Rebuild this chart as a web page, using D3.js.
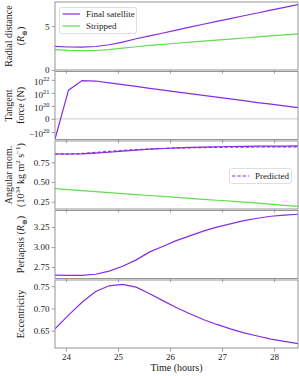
<!DOCTYPE html>
<html>
<head>
<meta charset="utf-8">
<script src="https://cdn.jsdelivr.net/npm/d3@7"></script>
<style>
  body { margin: 0; background: #fff; }
  text { font-family: "Liberation Serif", "DejaVu Serif", serif; fill: #222; }
</style>
</head>
<body>
<div id="chart"></div>
<script>
// time samples (hours)
const times = [23.79, 24.05, 24.31, 24.57, 24.83, 25.09, 25.35, 25.61, 25.87, 26.12,
               26.38, 26.64, 26.90, 27.16, 27.42, 27.68, 27.94, 28.20, 28.46];

// radial distance (R_earth)
const radialFinal = [2.70, 2.62, 2.60, 2.68, 2.88, 3.18, 3.56, 3.88, 4.22, 4.55,
                     4.88, 5.21, 5.54, 5.86, 6.18, 6.50, 6.82, 7.14, 7.46];
const radialStripped = [2.33, 2.24, 2.20, 2.22, 2.32, 2.49, 2.65, 2.80, 2.93, 3.05,
                        3.17, 3.29, 3.41, 3.53, 3.65, 3.77, 3.89, 4.00, 4.11];

// tangent force (N)
const forceFinal = [-3.5e20, 1.6e21, 8.7e21, 8.1e21, 5.9e21, 4.3e21, 3.1e21, 2.2e21, 1.6e21, 1.2e21,
                    8.7e20, 6.5e20, 4.7e20, 3.4e20, 2.5e20, 1.8e20, 1.35e20, 1.0e20, 0.86e20];

// angular momentum (1e34 kg m^2 s^-1)
const angFinal = [0.855, 0.855, 0.857, 0.865, 0.877, 0.892, 0.905, 0.916, 0.925, 0.932,
                  0.938, 0.943, 0.947, 0.950, 0.952, 0.954, 0.955, 0.956, 0.957];
const angPredicted = [0.855, 0.856, 0.862, 0.875, 0.888, 0.900, 0.910, 0.918, 0.925, 0.930,
                      0.934, 0.937, 0.940, 0.942, 0.943, 0.944, 0.945, 0.945, 0.945];
const angStripped = [0.415, 0.402, 0.390, 0.377, 0.365, 0.352, 0.340, 0.328, 0.316, 0.304,
                     0.292, 0.280, 0.268, 0.256, 0.244, 0.232, 0.218, 0.204, 0.190];

// periapsis (R_earth)
const periapsis = [2.650, 2.645, 2.645, 2.660, 2.700, 2.760, 2.840, 2.940, 3.010, 3.080,
                   3.140, 3.200, 3.250, 3.290, 3.330, 3.360, 3.385, 3.400, 3.410];

// eccentricity
const eccentricity = [0.654, 0.685, 0.714, 0.738, 0.751, 0.754, 0.748, 0.733, 0.717, 0.702,
                      0.688, 0.675, 0.664, 0.654, 0.645, 0.638, 0.631, 0.626, 0.621];

const xTicks = [24, 25, 26, 27, 28];
const forceTicks = [-1e20, 0, 1e20, 1e21, 1e22];
const forceLabels = [["−10", "20"], ["0", ""], ["10", "20"], ["10", "21"], ["10", "22"]];

const purple = "#8a2be2";
const green = "#62dd52";
const spine = "#8a8a8a";

const width = 299;
const height = 376;
const margin = {left: 55, right: 1};
const panelTop = [2, 71.5, 141, 210.5, 280];
const panelH = 68;

const svg = d3.select("#chart")
    .append("svg")
    .attr("width", width)
    .attr("height", height);

const xScale = d3.scaleLinear()
    .domain([23.79, 28.46])
    .range([margin.left, width - margin.right]);

// matplotlib-like symlog, linear below 1e20
function symlog(v) {
    const a = Math.abs(v) / 1e20;
    return a < 1 ? v / 1e20 : Math.sign(v) * (1 + Math.log10(a));
}

const panels = [
    {domain: [0, 7.75], ticks: [0, 5], fmt: d3.format("d")},
    {domain: [-1.58, 3.64], ticks: forceTicks.map(symlog), fmt: null},
    {domain: [0.157, 1.02], ticks: [0.25, 0.5, 0.75], fmt: d3.format(".2f")},
    {domain: [2.607, 3.457], ticks: [2.75, 3.0, 3.25], fmt: d3.format(".2f")},
    {domain: [0.611, 0.764], ticks: [0.65, 0.70, 0.75], fmt: d3.format(".2f")}
];

panels.forEach(function(p, i) {
    p.y = d3.scaleLinear()
        .domain(p.domain)
        .range([panelTop[i] + panelH, panelTop[i]]);

    svg.append("clipPath")
        .attr("id", "clip" + i)
        .append("rect")
        .attr("x", margin.left)
        .attr("y", panelTop[i])
        .attr("width", width - margin.right - margin.left)
        .attr("height", panelH);
});

// axes for every panel
panels.forEach(function(p, i) {
    const xAxis = svg.append("g")
        .attr("transform", `translate(0,${panelTop[i] + panelH})`)
        .call(d3.axisBottom(xScale).tickValues(xTicks).tickSize(3.5)
            .tickFormat(i === 4 ? d3.format("d") : ""));

    const yAxis = svg.append("g")
        .attr("transform", `translate(${margin.left},0)`)
        .call(d3.axisLeft(p.y).tickValues(p.ticks).tickSize(3.5)
            .tickFormat(p.fmt ? p.fmt : ""));

    [xAxis, yAxis].forEach(function(a) {
        a.select(".domain").remove();
        a.selectAll("line").attr("stroke", spine).attr("stroke-width", 0.8);
        a.selectAll("text")
            .style("font-family", "Liberation Serif, serif")
            .style("font-size", "9px")
            .attr("fill", "#333");
    });
    yAxis.selectAll("text").attr("x", -5.5);
    xAxis.selectAll("text").attr("y", 6);
    p.yAxis = yAxis;
});

// force tick labels with superscripts
panels[1].yAxis.selectAll(".tick text").each(function(d, k) {
    const t = d3.select(this);
    const lab = forceLabels[k];
    t.text(null);
    t.append("tspan").text(lab[0]);
    if (lab[1]) {
        t.append("tspan").attr("dy", -4).style("font-size", "6.5px").text(lab[1]);
        t.attr("dy", "0.55em");
    }
});

// zero line in force panel
svg.append("line")
    .attr("x1", margin.left)
    .attr("x2", width - margin.right)
    .attr("y1", panels[1].y(0))
    .attr("y2", panels[1].y(0))
    .attr("stroke", "#c4c4c4")
    .attr("stroke-width", 0.9);

function drawLine(i, values, color, dash, tf) {
    const p = panels[i];
    const line = d3.line()
        .x(function(d, k) { return xScale(times[k]); })
        .y(function(d) { return p.y(tf ? tf(d) : d); });
    svg.append("path")
        .datum(values)
        .attr("clip-path", `url(#clip${i})`)
        .attr("fill", "none")
        .attr("stroke", color)
        .attr("stroke-width", 1.2)
        .attr("stroke-dasharray", dash ? "3.5,1.8" : null)
        .attr("d", line);
}

drawLine(0, radialStripped, green);
drawLine(0, radialFinal, purple);
drawLine(1, forceFinal, purple, false, symlog);
drawLine(2, angStripped, green);
drawLine(2, angFinal, purple);
drawLine(2, angPredicted, purple, true);
drawLine(3, periapsis, purple);
drawLine(4, eccentricity, purple);

// frames
panels.forEach(function(p, i) {
    svg.append("rect")
        .attr("x", margin.left)
        .attr("y", panelTop[i])
        .attr("width", width - margin.right - margin.left)
        .attr("height", panelH)
        .attr("fill", "none")
        .attr("stroke", spine)
        .attr("stroke-width", 0.9);
});

// y labels
function yLabel(i, lines) {
    const cy = panelTop[i] + panelH / 2;
    lines.forEach(function(l, k) {
        const x = lines.length === 2 ? (k === 0 ? 12 : 24) : 24;
        const t = svg.append("text")
            .attr("transform", `translate(${x},${cy}) rotate(-90)`)
            .attr("text-anchor", "middle")
            .style("font-size", "10px")
            .attr("fill", "#333");
        l.forEach(function(part) {
            const s = t.append("tspan").text(part.t);
            if (part.i) s.style("font-style", "italic");
            if (part.sup) s.attr("dy", -4).style("font-size", "7px");
            if (part.sub) s.attr("dy", 2.5).style("font-size", "7px");
            if (part.dy) s.attr("dy", part.dy);
        });
    });
}

yLabel(0, [[{t: "Radial distance"}],
           [{t: "("}, {t: "R", i: true}, {t: "⊕", sub: true}, {t: ")", dy: -2.5}]]);
yLabel(1, [[{t: "Tangent"}], [{t: "force (N)"}]]);
yLabel(2, [[{t: "Angular mom."}],
           [{t: "(10"}, {t: "34", sup: true}, {t: " kg m", dy: 4}, {t: "2", sup: true},
            {t: " s", dy: 4}, {t: "−1", sup: true}, {t: ")", dy: 4}]]);
yLabel(3, [[{t: "Periapsis ("}, {t: "R", i: true}, {t: "⊕", sub: true}, {t: ")", dy: -2.5}]]);
yLabel(4, [[{t: "Eccentricity"}]]);

// x label
svg.append("text")
    .attr("x", (margin.left + width - margin.right) / 2)
    .attr("y", 371)
    .attr("text-anchor", "middle")
    .style("font-size", "10px")
    .attr("fill", "#333")
    .text("Time (hours)");

// legend in first panel
const leg1 = svg.append("g");
leg1.append("rect")
    .attr("x", 59.5).attr("y", 7.5).attr("width", 77).attr("height", 26)
    .attr("rx", 2)
    .attr("fill", "white").attr("fill-opacity", 0.8)
    .attr("stroke", "#d5d5d5").attr("stroke-width", 0.8);
[["Final satellite", purple, 14], ["Stripped", green, 26]].forEach(function(e) {
    leg1.append("line")
        .attr("x1", 62.5).attr("x2", 80).attr("y1", e[2]).attr("y2", e[2])
        .attr("stroke", e[1]).attr("stroke-width", 1.2);
    leg1.append("text")
        .attr("x", 86).attr("y", e[2] + 3)
        .style("font-size", "9px")
        .attr("fill", "#333")
        .text(e[0]);
});

// legend in angular momentum panel
const leg2 = svg.append("g");
leg2.append("rect")
    .attr("x", 229.5).attr("y", 168.5).attr("width", 62).attr("height", 15)
    .attr("rx", 2)
    .attr("fill", "white").attr("fill-opacity", 0.8)
    .attr("stroke", "#d5d5d5").attr("stroke-width", 0.8);
leg2.append("line")
    .attr("x1", 232).attr("x2", 249).attr("y1", 176).attr("y2", 176)
    .attr("stroke", purple).attr("stroke-width", 1.2)
    .attr("stroke-dasharray", "3.5,1.8");
leg2.append("text")
    .attr("x", 255).attr("y", 179)
    .style("font-size", "9px")
    .attr("fill", "#333")
    .text("Predicted");
</script>
</body>
</html>
